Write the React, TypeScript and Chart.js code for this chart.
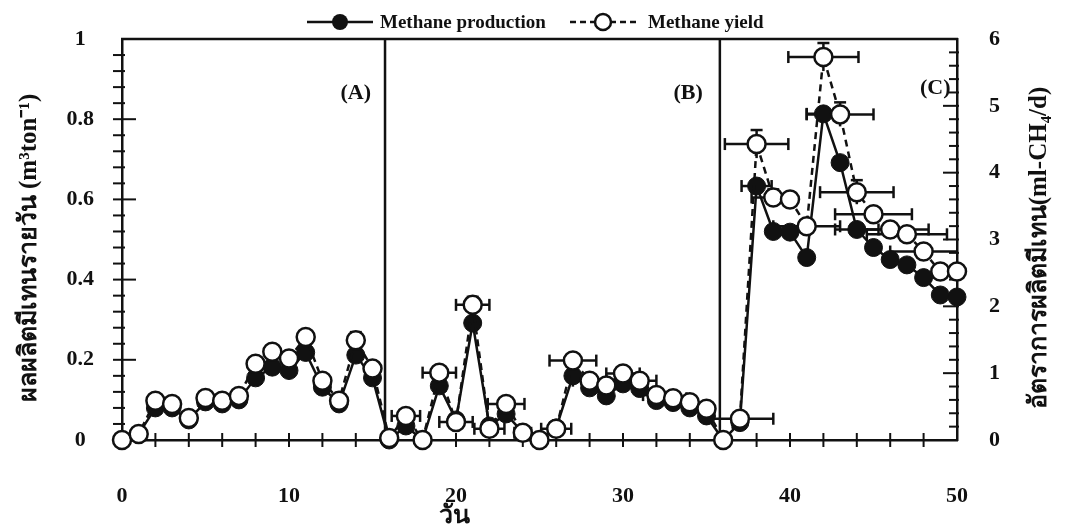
import React, { useEffect, useRef } from 'react';
import { Chart, registerables } from 'chart.js';

Chart.register(...registerables);

// ---------- data ----------
const days = [
  0, 1, 2, 3, 4, 5, 6, 7, 8, 9, 10, 11, 12, 13, 14, 15, 16, 17, 18, 19, 20, 21, 22, 23, 24, 25,
  26, 27, 28, 29, 30, 31, 32, 33, 34, 35, 36, 37, 38, 39, 40, 41, 42, 43, 44, 45, 46, 47, 48, 49, 50,
];

// Methane production (right axis, ml-CH4/d)
const methaneProduction = [
  0, 0.09, 0.48, 0.48, 0.3, 0.57, 0.54, 0.6, 0.93, 1.09, 1.04, 1.31, 0.79, 0.54, 1.27, 0.93, 0,
  0.21, 0, 0.81, 0.3, 1.75, 0.21, 0.39, 0.11, 0, 0.18, 0.96, 0.78, 0.66, 0.84, 0.77, 0.59, 0.56,
  0.48, 0.36, 0, 0.26, 3.8, 3.12, 3.11, 2.73, 4.88, 4.15, 3.15, 2.88, 2.7, 2.62, 2.43, 2.17, 2.14,
];

// Methane yield (left axis, m3/ton)
const methaneYield = [
  0, 0.015, 0.098, 0.09, 0.055, 0.105, 0.098, 0.11, 0.19, 0.22, 0.203, 0.257, 0.148, 0.098, 0.249,
  0.178, 0.005, 0.06, 0, 0.168, 0.045, 0.337, 0.028, 0.09, 0.018, 0, 0.028, 0.198, 0.148, 0.136,
  0.166, 0.148, 0.112, 0.104, 0.094, 0.078, 0, 0.053, 0.738, 0.605, 0.6, 0.533, 0.955, 0.812, 0.618,
  0.563, 0.525, 0.513, 0.47, 0.42, 0.42,
];

// horizontal (day) error of yield points
const yieldDayErr = [
  0, 0, 0, 0, 0, 0, 0, 0, 0, 0, 0, 0, 0, 0, 0, 0, 0, 0.85, 0, 1, 1, 1, 0.9, 1.1, 0.5, 0, 0.9, 1.4,
  1, 1, 1, 1, 0.8, 0.8, 0, 0, 0, 2, 1.9, 1.3, 0, 2, 2.1, 2, 2.2, 2.3, 2.3, 2.4, 2, 0, 0,
];
// vertical error of yield points
const yieldValueErr = [
  0, 0, 0, 0, 0, 0, 0, 0, 0, 0, 0, 0, 0, 0, 0.02, 0, 0, 0, 0, 0, 0, 0.02, 0, 0, 0, 0, 0, 0, 0, 0,
  0, 0, 0, 0, 0, 0, 0, 0, 0.035, 0.02, 0, 0, 0.035, 0.03, 0.03, 0, 0, 0, 0, 0, 0,
];
// horizontal (day) error of production points
const productionDayErr = [
  0, 0, 0, 0, 0, 0, 0, 0, 0, 0, 0, 0, 0, 0, 0, 0, 0, 0, 0, 0, 0, 0, 0, 0, 0, 0, 0, 0, 0, 0, 0, 0,
  0, 0, 0, 0, 0, 0, 0.9, 0, 0, 0, 1, 0, 1.3, 0, 0, 0, 0, 0, 0,
];

const xTickStep = 10;
const leftTickStep = 0.2;
const leftTickLabels = ['0', '0.2', '0.4', '0.6', '0.8', '1'];
const rightTickStep = 1;
const phaseBoundaries = [15.75, 35.8];
const phaseLabels = ['(A)', '(B)', '(C)'];
const phaseLabelDays = [14, 33.9, 48.7];
const phaseLabelValues = [0.865, 0.865, 0.878];
const legendLabels = ['Methane production', 'Methane yield'];
const leftTitle = 'ผลผลิตมีเทนรายวัน (m³ton⁻¹)';
const rightTitle = 'อัตราการผลิตมีเทน(ml-CH₄/d)';
const xTitle = 'วัน';

const FONT = '"Liberation Serif", "Times New Roman", serif';
const INK = '#111111';

function seg(ctx: CanvasRenderingContext2D, x1: number, y1: number, x2: number, y2: number) {
  ctx.beginPath();
  ctx.moveTo(x1, y1);
  ctx.lineTo(x2, y2);
  ctx.stroke();
}

const decoPlugin = {
  id: 'deco',
  beforeDatasetsDraw(chart: any) {
    const { ctx, chartArea: a, scales } = chart;
    const xs = scales.x;
    const yl = scales.y;
    const yr = scales.y1;
    ctx.save();
    ctx.strokeStyle = INK;
    ctx.lineWidth = 2.5;
    ctx.lineCap = 'butt';
    // top border
    seg(ctx, a.left - 1, a.top, a.right + 1, a.top);
    // phase separators
    phaseBoundaries.forEach((d) => {
      const px = xs.getPixelForValue(d);
      seg(ctx, px, a.top, px, a.bottom);
    });
    // x ticks
    ctx.lineWidth = 2;
    for (let d = 2; d < 50; d += 2) {
      const px = xs.getPixelForValue(d);
      seg(ctx, px, a.bottom - 7, px, a.bottom + 7);
    }
    // left ticks
    for (let i = 1; i < 25; i++) {
      const py = yl.getPixelForValue(i * 0.04);
      const major = i % 5 === 0;
      seg(ctx, a.left - 9, py, a.left + (major ? 14 : 3), py);
    }
    // right ticks
    for (let i = 1; i < 30; i++) {
      const py = yr.getPixelForValue(i * 0.2);
      const major = i % 5 === 0;
      seg(ctx, a.right - (major ? 14 : 8), py, a.right + 2, py);
    }
    // error bars
    ctx.lineWidth = 2.5;
    const drawErr = (vals: number[], dErr: number[], vErr: number[] | null, ys: any) => {
      days.forEach((d, i) => {
        const py = ys.getPixelForValue(vals[i]);
        const px = xs.getPixelForValue(d);
        const e = dErr[i];
        if (e > 0) {
          const x1 = Math.max(a.left, xs.getPixelForValue(d - e));
          const x2 = Math.min(a.right, xs.getPixelForValue(d + e));
          seg(ctx, x1, py, x2, py);
          if (x1 > a.left) seg(ctx, x1, py - 6, x1, py + 6);
          if (x2 < a.right) seg(ctx, x2, py - 6, x2, py + 6);
        }
        if (vErr && vErr[i] > 0) {
          const pTop = ys.getPixelForValue(vals[i] + vErr[i]);
          const pBot = ys.getPixelForValue(vals[i] - vErr[i]);
          seg(ctx, px, pTop, px, pBot);
          seg(ctx, px - 6, pTop, px + 6, pTop);
        }
      });
    };
    drawErr(methaneProduction, productionDayErr, null, yr);
    drawErr(methaneYield, yieldDayErr, yieldValueErr, yl);
    ctx.restore();
  },
  afterDraw(chart: any) {
    const { ctx, scales } = chart;
    const xs = scales.x;
    const yl = scales.y;
    ctx.save();
    ctx.fillStyle = INK;
    ctx.strokeStyle = INK;
    // legend
    const ly = 22;
    ctx.lineWidth = 2.5;
    seg(ctx, 307, ly, 373, ly);
    ctx.beginPath();
    ctx.arc(340, ly, 8, 0, Math.PI * 2);
    ctx.fill();
    ctx.font = `bold 19px ${FONT}`;
    ctx.textBaseline = 'middle';
    ctx.textAlign = 'left';
    ctx.fillText(legendLabels[0], 380, ly + 1);
    ctx.setLineDash([6, 4]);
    seg(ctx, 570, ly, 640, ly);
    ctx.setLineDash([]);
    ctx.beginPath();
    ctx.arc(603, ly, 8, 0, Math.PI * 2);
    ctx.fillStyle = '#ffffff';
    ctx.fill();
    ctx.stroke();
    ctx.fillStyle = INK;
    ctx.fillText(legendLabels[1], 648, ly + 1);
    // panel labels
    ctx.font = `bold 22px ${FONT}`;
    ctx.textAlign = 'center';
    phaseLabels.forEach((t, i) => {
      ctx.fillText(t, xs.getPixelForValue(phaseLabelDays[i]), yl.getPixelForValue(phaseLabelValues[i]));
    });
    // axis titles
    ctx.font = `bold 25px ${FONT}`;
    ctx.save();
    ctx.translate(30, 248);
    ctx.rotate(-Math.PI / 2);
    ctx.fillText(leftTitle, 0, 0);
    ctx.restore();
    ctx.save();
    ctx.translate(1040, 248);
    ctx.rotate(-Math.PI / 2);
    ctx.fillText(rightTitle, 0, 0);
    ctx.restore();
    ctx.font = `bold 25px ${FONT}`;
    ctx.fillText(xTitle, xs.getPixelForValue(19.9), 517);
    ctx.restore();
  },
};

export default function App() {
  const ref = useRef<HTMLCanvasElement | null>(null);
  useEffect(() => {
    if (!ref.current) return;
    const tickFont = { family: FONT, size: 22, weight: 'bold' as const };
    const chart = new Chart(ref.current, {
      type: 'line',
      data: {
        datasets: [
          {
            label: legendLabels[1],
            data: days.map((d, i) => ({ x: d, y: methaneYield[i] })),
            yAxisID: 'y',
            borderColor: INK,
            borderWidth: 2.5,
            borderDash: [7, 5],
            pointRadius: 9,
            pointBorderWidth: 2.5,
            pointBackgroundColor: '#ffffff',
            pointBorderColor: INK,
            order: 0,
            clip: false,
            tension: 0,
          },
          {
            label: legendLabels[0],
            data: days.map((d, i) => ({ x: d, y: methaneProduction[i] })),
            yAxisID: 'y1',
            borderColor: INK,
            borderWidth: 2.5,
            pointRadius: 9,
            pointBorderWidth: 1,
            pointBackgroundColor: INK,
            pointBorderColor: INK,
            order: 1,
            clip: false,
            tension: 0,
          },
        ],
      },
      options: {
        responsive: false,
        animation: false,
        devicePixelRatio: 1,
        layout: { padding: { top: 39, left: 0, right: 0, bottom: 0 } },
        plugins: { legend: { display: false }, tooltip: { enabled: false } },
        scales: {
          x: {
            type: 'linear',
            min: 0,
            max: 50,
            grid: { display: false, drawTicks: false },
            border: { color: INK, width: 2.5 },
            ticks: { stepSize: xTickStep, font: tickFont, color: INK, padding: 43, maxRotation: 0 },
            afterFit: (s: any) => {
              s.height = 88;
              s.paddingLeft = 0;
              s.paddingRight = 0;
            },
          },
          y: {
            position: 'left',
            min: 0,
            max: 1,
            grid: { display: false, drawTicks: false },
            border: { color: INK, width: 2.5 },
            ticks: {
              stepSize: leftTickStep,
              font: tickFont,
              color: INK,
              padding: 28,
              crossAlign: 'center',
              callback: (_v: any, i: number) => leftTickLabels[i],
            },
            afterFit: (s: any) => {
              s.width = 122;
              s.paddingTop = 0;
              s.paddingBottom = 0;
            },
          },
          y1: {
            position: 'right',
            min: 0,
            max: 6,
            grid: { display: false, drawTicks: false },
            border: { color: INK, width: 2.5 },
            ticks: { stepSize: rightTickStep, font: tickFont, color: INK, padding: 32, crossAlign: 'center' },
            afterFit: (s: any) => {
              s.width = 110;
              s.paddingTop = 0;
              s.paddingBottom = 0;
            },
          },
        },
      },
      plugins: [decoPlugin],
    });
    return () => chart.destroy();
  }, []);
  return (
    <div style={{ position: 'fixed', left: 0, top: 0, width: 1067, height: 528, background: '#fff' }}>
      <canvas ref={ref} width={1067} height={528} style={{ width: 1067, height: 528 }} />
    </div>
  );
}
